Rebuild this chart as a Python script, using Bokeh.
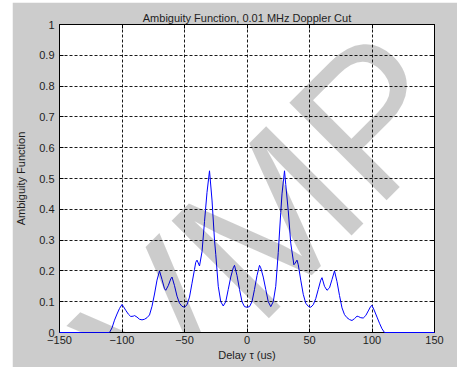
import math
from bokeh.plotting import figure
from bokeh.models import Range1d, FixedTicker, LinearAxis, Label, Spacer, ColumnDataSource
from bokeh.layouts import column, row
from bokeh.embed import file_html
from bokeh.resources import INLINE

title_text = "Ambiguity Function, 0.01 MHz Doppler Cut"
x_label = "Delay \u03c4 (us)"
y_label = "Ambiguity Function"
x_ticks = [-150, -100, -50, 0, 50, 100, 150]
y_ticks = [0, 0.1, 0.2, 0.3, 0.4, 0.5, 0.6, 0.7, 0.8, 0.9, 1]
y_tick_labels = ["0", "0.1", "0.2", "0.3", "0.4", "0.5", "0.6", "0.7", "0.8", "0.9", "1"]

delay_us = [-150, -110, -108, -106, -104, -102, -100, -99, -97, -95, -93, -91, -90, -88,
            -86, -84, -82, -80, -78, -76, -74, -72, -70, -68, -66, -65, -63, -61, -60,
            -58, -56, -54, -52, -50, -48, -46, -44, -42, -41, -40, -38, -36, -34, -32,
            -30, -28, -26, -25, -23, -21, -19, -17, -15, -13, -11, -10, -8, -6, -4, -2,
            0, 2, 4, 6, 8, 10, 11, 13, 15, 17, 19, 21, 23, 25, 27, 28, 30, 31, 33, 35,
            37.5, 38.5, 40, 41, 43, 45, 47, 49, 51, 53, 55, 57, 59, 60, 62, 64, 66, 68,
            70, 72, 74, 76, 78, 80, 82, 84, 86, 88, 89, 91, 93, 95, 97, 99, 100, 102,
            104, 106, 108, 110, 150]
ambiguity = [0, 0, 0.015, 0.04, 0.06, 0.078, 0.091, 0.085, 0.072, 0.06, 0.052, 0.053, 0.055, 0.05,
             0.043, 0.041, 0.043, 0.048, 0.057, 0.085, 0.125, 0.17, 0.2, 0.172, 0.142, 0.137, 0.152, 0.174, 0.18,
             0.152, 0.118, 0.095, 0.085, 0.082, 0.09, 0.115, 0.16, 0.205, 0.228, 0.235, 0.216, 0.262, 0.36, 0.455,
             0.525, 0.43, 0.3, 0.254, 0.15, 0.1, 0.086, 0.1, 0.14, 0.18, 0.21, 0.218, 0.185, 0.14, 0.1, 0.084,
             0.082, 0.084, 0.1, 0.14, 0.185, 0.218, 0.21, 0.18, 0.14, 0.1, 0.084, 0.1, 0.15, 0.26, 0.39, 0.45, 0.525, 0.48, 0.395, 0.29,
             0.22, 0.225, 0.235, 0.22, 0.17, 0.124, 0.095, 0.085, 0.082, 0.09, 0.11, 0.14, 0.17, 0.178, 0.15, 0.137, 0.145, 0.172,
             0.2, 0.165, 0.12, 0.08, 0.058, 0.048, 0.042, 0.039, 0.045, 0.053, 0.052, 0.048, 0.047, 0.055, 0.07, 0.085, 0.088, 0.07,
             0.05, 0.03, 0.012, 0, 0]

watermark_text = "VMP"

FONT = "Liberation Sans"
TXT = "#1e1e1e"
BG = "#CCCCCC"

p = figure(width=445, height=365, output_backend="svg", toolbar_location=None,
           x_range=Range1d(-150, 150), y_range=Range1d(0, 1),
           min_border_left=46, min_border_right=23, min_border_top=22, min_border_bottom=35,
           background_fill_color="white", border_fill_color=BG,
           outline_line_color="black", outline_line_width=1)

p.title.text = title_text
p.title.align = "center"
p.title.text_font = FONT
p.title.text_font_size = "11px"
p.title.text_font_style = "normal"
p.title.text_color = TXT
p.title.standoff = 2

for ax in (p.xaxis[0], p.yaxis[0]):
    ax.major_tick_in = 4
    ax.major_tick_out = 0
    ax.minor_tick_in = 0
    ax.minor_tick_out = 0
    ax.axis_line_color = "black"
    ax.major_tick_line_color = "black"
    ax.major_label_text_font = FONT
    ax.major_label_text_font_size = "11px"
    ax.major_label_text_color = TXT
    ax.axis_label_text_font = FONT
    ax.axis_label_text_font_size = "11px"
    ax.axis_label_text_font_style = "normal"
    ax.axis_label_text_color = TXT

p.xaxis[0].ticker = FixedTicker(ticks=x_ticks)
p.yaxis[0].ticker = FixedTicker(ticks=y_ticks)
p.yaxis[0].major_label_overrides = {t: s for t, s in zip(y_ticks, y_tick_labels)}
p.xaxis[0].axis_label = x_label
p.yaxis[0].axis_label = y_label
p.xaxis[0].major_label_standoff = 3
p.xaxis[0].axis_label_standoff = 2
p.yaxis[0].major_label_standoff = 5
p.yaxis[0].axis_label_standoff = 9

for side, ticks in (("right", y_ticks), ("above", x_ticks)):
    ax = LinearAxis(ticker=FixedTicker(ticks=ticks), major_tick_in=4, major_tick_out=0,
                    minor_tick_in=0, minor_tick_out=0, major_label_text_font_size="0px",
                    major_label_standoff=0, axis_line_color="black", major_tick_line_color="black")
    p.add_layout(ax, side)

p.xgrid.ticker = FixedTicker(ticks=x_ticks)
p.ygrid.ticker = FixedTicker(ticks=y_ticks)
for g in (p.xgrid[0], p.ygrid[0]):
    g.grid_line_color = "black"
    g.grid_line_dash = "3 2"
    g.grid_line_width = 1
    g.grid_line_alpha = 0.9

src = ColumnDataSource(data=dict(x=delay_us, y=ambiguity))
r = p.line("x", "y", source=src, line_color="#0000FF", line_width=1)
r.level = "overlay"

wm = Label(x=16, y=0.36, text=watermark_text, angle=math.radians(45),
           text_font=FONT, text_font_size="200px", text_color="black", text_alpha=0.2,
           text_align="center", text_baseline="middle", level="overlay")
p.add_layout(wm)

layout = column(Spacer(height=2), row(Spacer(width=12), p, spacing=0), spacing=0)

open("out.html", "w").write(file_html(layout, INLINE))
